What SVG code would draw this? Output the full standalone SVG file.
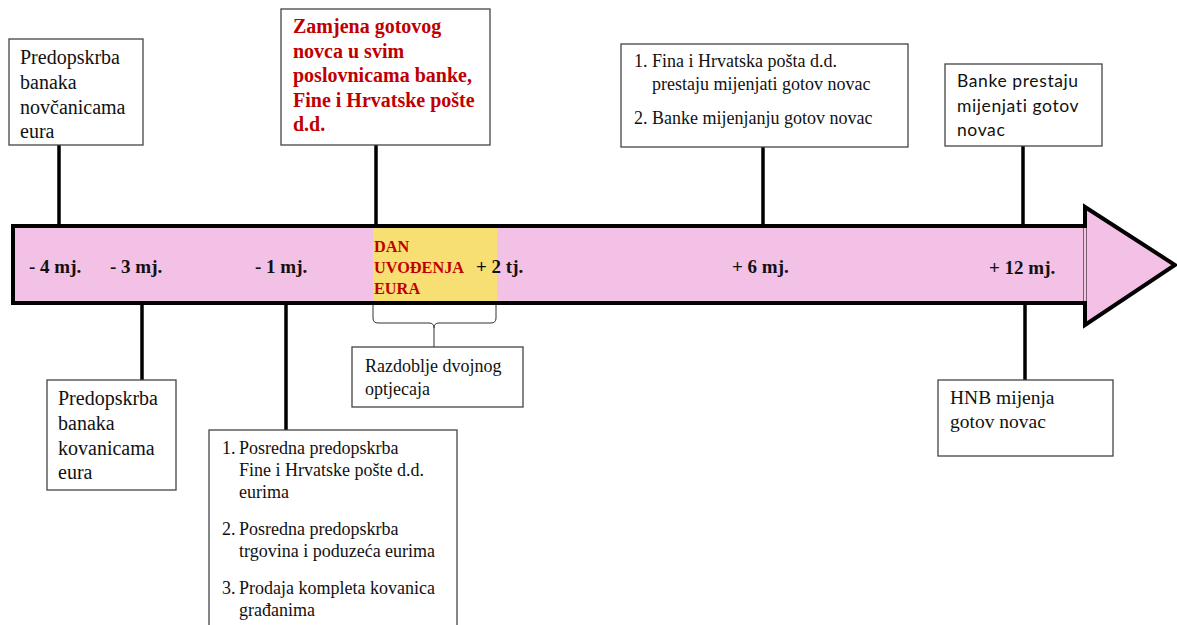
<svg xmlns="http://www.w3.org/2000/svg" width="1177" height="625" viewBox="0 0 1177 625">
<style>
.box{fill:#fff;stroke:#444;stroke-width:1.3}
.conn{stroke:#000;stroke-width:3.5;fill:none}
.txt{font-family:"Liberation Serif","Times New Roman",serif;fill:#111}
.tl{font-family:"Liberation Serif","Times New Roman",serif;font-weight:bold;font-size:19px;fill:#111}
.red{font-family:"Liberation Serif","Times New Roman",serif;font-weight:bold;fill:#C00000}
.sans{font-family:Lato,"Liberation Sans",sans-serif;fill:#111}
</style>
<rect width="1177" height="625" fill="#fff"/>
<g id="timeline">
<rect x="13" y="226" width="1072" height="77" fill="#F3C0E6" stroke="#000" stroke-width="4"/>
<rect x="373" y="228" width="124" height="73" fill="#F8DF73"/>
<polygon points="1085,207 1175,265 1085,325" fill="#F3C0E6" stroke="#000" stroke-width="4" stroke-linejoin="miter"/>
<line x1="1085" y1="228" x2="1085" y2="301" stroke="#F3C0E6" stroke-width="3"/>
<text class="tl" x="29" y="273">- 4 mj.</text>
<text class="tl" x="110" y="273">- 3 mj.</text>
<text class="tl" x="255" y="273">- 1 mj.</text>
<text class="tl" x="476" y="273">+ 2 tj.</text>
<text class="tl" x="732" y="273">+ 6 mj.</text>
<text class="tl" x="989" y="274">+ 12 mj.</text>
<text class="red" font-size="16.3" x="374" y="252">DAN</text>
<text class="red" font-size="16.3" x="374" y="273">UVOĐENJA</text>
<text class="red" font-size="16.3" x="374" y="294">EURA</text>
</g>
<g id="connectors">
<line class="conn" x1="59" y1="145" x2="59" y2="226"/>
<line class="conn" x1="376" y1="145" x2="376" y2="226"/>
<line class="conn" x1="763" y1="147" x2="763" y2="226"/>
<line class="conn" x1="1023" y1="146" x2="1023" y2="226"/>
<line class="conn" x1="142" y1="303" x2="142" y2="380"/>
<line class="conn" x1="286" y1="303" x2="286" y2="430"/>
<line class="conn" x1="1025" y1="303" x2="1025" y2="380"/>
<path d="M373,305 V318 Q373,323 378,323 H429 Q434,323 434,328 V347 M434,328 Q434,323 439,323 H491 Q496,323 496,318 V305" fill="none" stroke="#333" stroke-width="1"/>
</g>
<g id="n1">
<rect class="box" x="9" y="39" width="134" height="106"/>
<text class="txt" font-size="20"><tspan x="20" y="64">Predopskrba</tspan><tspan x="20" y="89">banaka</tspan><tspan x="20" y="114">novčanicama</tspan><tspan x="20" y="138">eura</tspan></text>
</g>
<g id="n2">
<rect class="box" x="281" y="9" width="209" height="136"/>
<text class="red" font-size="20"><tspan x="293" y="33">Zamjena gotovog</tspan><tspan x="293" y="58">novca u svim</tspan><tspan x="293" y="82">poslovnicama banke,</tspan><tspan x="293" y="107">Fine i Hrvatske pošte</tspan><tspan x="293" y="131">d.d.</tspan></text>
</g>
<g id="n3">
<rect class="box" x="621" y="44" width="287" height="103"/>
<text class="txt" font-size="18"><tspan x="634" y="67">1.</tspan><tspan x="652" y="67">Fina i Hrvatska pošta d.d.</tspan><tspan x="652" y="90">prestaju mijenjati gotov novac</tspan><tspan x="634" y="124">2.</tspan><tspan x="652" y="124">Banke mijenjanju gotov novac</tspan></text>
</g>
<g id="n4">
<rect class="box" x="945" y="64" width="157" height="82"/>
<text class="sans" font-size="17.5" letter-spacing="0.6"><tspan x="957" y="87">Banke prestaju</tspan><tspan x="957" y="112">mijenjati gotov</tspan><tspan x="957" y="136">novac</tspan></text>
</g>
<g id="n5">
<rect class="box" x="47" y="380" width="129" height="110"/>
<text class="txt" font-size="20"><tspan x="58" y="405">Predopskrba</tspan><tspan x="58" y="430">banaka</tspan><tspan x="58" y="455">kovanicama</tspan><tspan x="58" y="479">eura</tspan></text>
</g>
<g id="n6">
<rect class="box" x="209" y="430" width="248" height="200"/>
<text class="txt" font-size="18"><tspan x="222" y="454">1.</tspan><tspan x="239" y="454">Posredna predopskrba</tspan><tspan x="239" y="476">Fine i Hrvatske pošte d.d.</tspan><tspan x="239" y="498">eurima</tspan><tspan x="222" y="535">2.</tspan><tspan x="239" y="535">Posredna predopskrba</tspan><tspan x="239" y="557">trgovina i poduzeća eurima</tspan><tspan x="222" y="594">3.</tspan><tspan x="239" y="594">Prodaja kompleta kovanica</tspan><tspan x="239" y="616">građanima</tspan></text>
</g>
<g id="n7">
<rect class="box" x="352" y="347" width="171" height="60"/>
<text class="txt" font-size="18"><tspan x="365" y="372">Razdoblje dvojnog</tspan><tspan x="365" y="395">optjecaja</tspan></text>
</g>
<g id="n8">
<rect class="box" x="938" y="380" width="175" height="76"/>
<text class="txt" font-size="19.5"><tspan x="950" y="404">HNB mijenja</tspan><tspan x="950" y="428">gotov novac</tspan></text>
</g>
</svg>
